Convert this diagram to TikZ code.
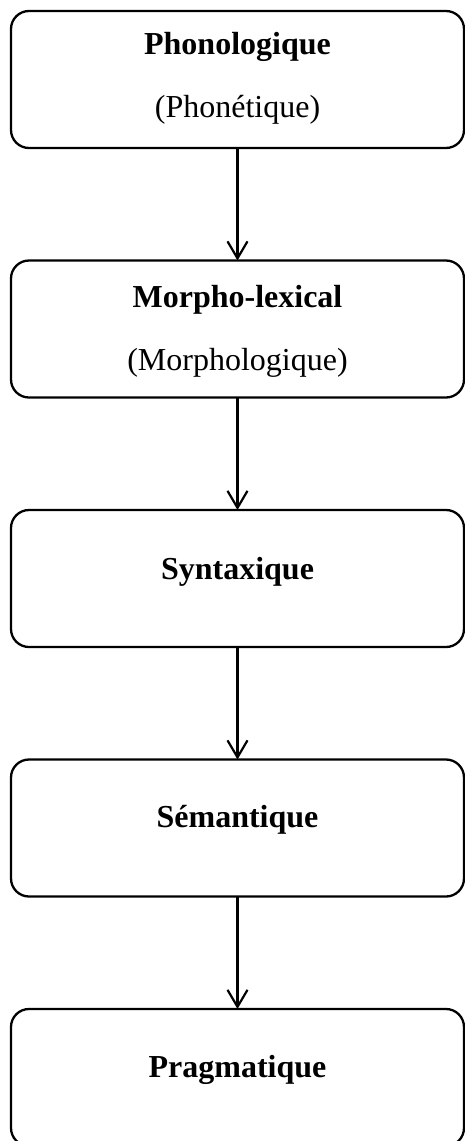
\documentclass[tikz,border=0pt]{standalone}
\usepackage{fontspec}
\setmainfont{Liberation Serif}
\usetikzlibrary{positioning,arrows.meta}

\begin{document}
\begin{tikzpicture}[level/.style={
                rectangle, draw, line width=2.3pt, rounded corners=18pt,
                minimum width=453pt, minimum height=137pt, outer sep=0pt},
            heading/.style={anchor=base, font=\fontsize{32}{38}\selectfont\bfseries},
            gloss/.style={anchor=base, font=\fontsize{32}{38}\selectfont},
            flow/.style={line width=2.2pt, -{Straight Barb[length=17pt,width=20pt]}},
            node distance=112.5pt]

            \useasboundingbox (0,0) rectangle (465pt,-1141pt);

            \node [level] (l0) at (237.5pt,-79.5pt) {};
            \node [heading] at ([yshift=-43pt]l0.north) {Phonologique};
            \node [gloss] at ([yshift=-106pt]l0.north) {(Phonétique)};

            \node [level,below=of l0] (l1) {};
            \node [heading] at ([yshift=-47pt]l1.north) {Morpho-lexical};
            \node [gloss] at ([yshift=-110pt]l1.north) {(Morphologique)};

            \node [level,below=of l1] (l2) {};
            \node [heading] at ([yshift=-69pt]l2.north) {Syntaxique};

            \node [level,below=of l2] (l3) {};
            \node [heading] at ([yshift=-68pt]l3.north) {Sémantique};

            \node [level,below=of l3] (l4) {};
            \node [heading] at ([yshift=-68pt]l4.north) {Pragmatique};

            \draw [flow] (l0) -- (l1);
            \draw [flow] (l1) -- (l2);
            \draw [flow] (l2) -- (l3);
            \draw [flow] (l3) -- (l4);
        \end{tikzpicture}
\end{document}
